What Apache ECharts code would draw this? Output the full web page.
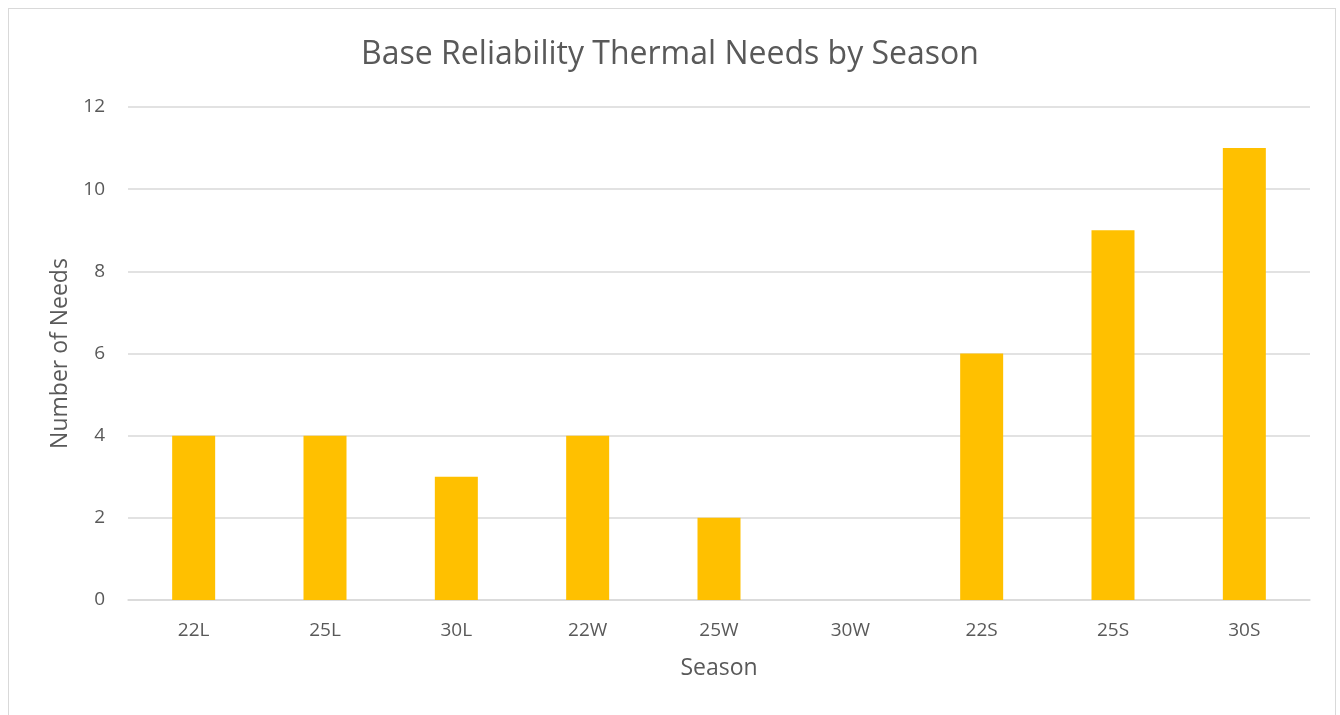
<!DOCTYPE html>
<html>
<head>
<meta charset="utf-8">
<script src="https://cdn.jsdelivr.net/npm/echarts@6/dist/echarts.min.js"></script>
<style>
html,body{margin:0;padding:0;background:#fff;}
#frame{position:absolute;left:8px;top:8px;width:1328px;height:720px;border:1px solid #d9d9d9;box-sizing:border-box;}
#chart{position:absolute;left:0;top:0;width:1340px;height:715px;}
</style>
</head>
<body>
<div id="frame"></div>
<div id="chart"></div>
<script>
const categories = ['22L','25L','30L','22W','25W','30W','22S','25S','30S'];
const needs = [4,4,3,4,2,0,6,9,11];
const yTicks = {min:0, max:12, interval:2};

const font = '"Open Sans", "Noto Sans", sans-serif';
const chart = echarts.init(document.getElementById('chart'));
chart.setOption({
  animation:false,
  title:{text:'Base Reliability Thermal Needs by Season',left:'center',top:34,
    textStyle:{fontFamily:font,fontSize:32,fontWeight:'normal',color:'#595959'}},
  grid:{left:128,right:30,top:107,bottom:115},
  xAxis:{type:'category',data:categories,
    name:'Season',nameLocation:'middle',nameGap:57,
    nameTextStyle:{fontFamily:font,fontSize:23,color:'#595959'},
    axisLine:{lineStyle:{color:'#d9d9d9',width:1.5}},axisTick:{show:false},
    axisLabel:{fontFamily:font,fontSize:19,color:'#595959',margin:21}},
  yAxis:{type:'value',min:yTicks.min,max:yTicks.max,interval:yTicks.interval,
    name:'Number of Needs',nameLocation:'middle',nameGap:56,
    nameTextStyle:{fontFamily:font,fontSize:23,color:'#595959'},
    axisLine:{show:false},axisTick:{show:false},
    splitLine:{lineStyle:{color:'#d9d9d9',width:1.5}},
    axisLabel:{fontFamily:font,fontSize:19,color:'#595959',margin:23}},
  series:[{type:'bar',data:needs,barWidth:43,itemStyle:{color:'#FFC000'}}]
});
</script>
</body>
</html>
